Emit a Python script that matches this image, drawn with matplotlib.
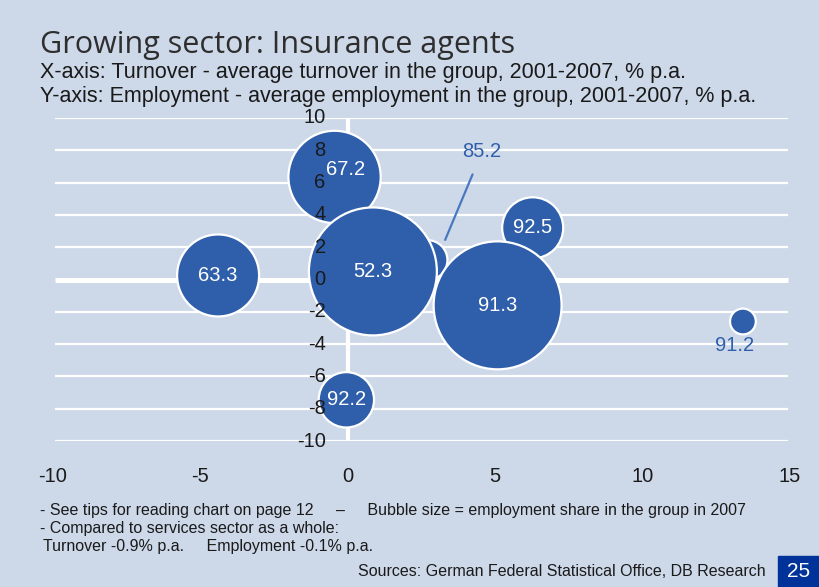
import matplotlib.pyplot as plt
import numpy as np

plt.rcParams['font.family'] = ['Liberation Sans', 'DejaVu Sans']

bg = '#cdd8e9'
blue = '#2f5fab'
dark_blue = '#003399'
text_dark = '#1a1a1a'

# bubble data (turnover % p.a., employment % p.a., employment share, label)
labels = ['67.2', '85.2', '92.5', '52.3', '91.3', '63.3', '92.2', '91.2']
turnover = [-0.45, 2.7, 6.27, 0.85, 5.08, -4.4, -0.05, 13.4]
employment = [6.35, 1.2, 3.2, 0.5, -1.6, 0.25, -7.45, -2.6]
share = [12.8, 2.4, 5.6, 24.6, 24.6, 10.1, 4.6, 1.0]

x_ticks = [-10, -5, 0, 5, 10, 15]
y_ticks = [-10, -8, -6, -4, -2, 0, 2, 4, 6, 8, 10]

fig = plt.figure(figsize=(8.19, 5.87), dpi=100, facecolor=bg)
ax = fig.add_axes([0.0647, 0.2487, 0.9, 0.5503])
ax.set_facecolor(bg)
ax.set_xlim(-10, 15)
ax.set_ylim(-10, 10)
ax.axis('off')

# horizontal grid, zero line heavier, plus the vertical axis line
for yv in y_ticks:
    ax.plot([-9.93, 14.93], [yv, yv], color='white', lw=3.6 if yv == 0 else 1.6,
            zorder=1, solid_capstyle='butt')
ax.plot([0, 0], [-10, 10], color='white', lw=3.0, zorder=1, solid_capstyle='butt')

# bubble area proportional to employment share
sizes = np.array(share) * 345.0
ax.scatter(turnover, employment, s=sizes, color=blue, edgecolors='white',
           linewidths=1.6, zorder=3)

# labels inside the bubbles (offset in points where the label was nudged)
nudge = {'67.2': (8, 5)}
for x, y, lab in zip(turnover, employment, labels):
    if lab in ('85.2', '91.2'):
        continue
    ax.annotate(lab, (x, y), xytext=nudge.get(lab, (0, 0)), textcoords='offset points',
                color='white', fontsize=14.5, ha='center', va='center', zorder=5)

# labels outside the small bubbles
ax.annotate('91.2', (turnover[7], employment[7]), xytext=(-6, -17), textcoords='offset points',
            color=blue, fontsize=14.5, ha='center', va='center', zorder=5)
ax.annotate('85.2', xy=(3.3, 2.45), xytext=(4.55, 7.9), color=blue, fontsize=14.5,
            ha='center', va='center', zorder=5,
            arrowprops=dict(arrowstyle='-', color='#4a78c0', lw=1.6, shrinkA=8, shrinkB=0))

# y tick labels sit next to the vertical axis
for yv in y_ticks:
    ax.text(-0.75, yv, str(yv), color=text_dark, fontsize=14.5, ha='right', va='center', zorder=6)
# x tick labels below the plot
for xv in x_ticks:
    ax.text(xv, -12.2, str(xv), color=text_dark, fontsize=14.5, ha='center', va='center',
            clip_on=False)

# headings
fig.text(0.049, 0.923, 'Growing sector: Insurance agents', fontsize=22, color='#2e2e2e',
         family=['Open Sans', 'DejaVu Sans'], va='center')
fig.text(0.049, 0.877, 'X-axis: Turnover - average turnover in the group, 2001-2007, % p.a.',
         fontsize=15.5, color=text_dark, va='center')
fig.text(0.049, 0.836, 'Y-axis: Employment - average employment in the group, 2001-2007, % p.a.',
         fontsize=15.5, color=text_dark, va='center')

# footnotes
fig.text(0.049, 0.131, '- See tips for reading chart on page 12     \u2013     Bubble size = employment share in the group in 2007',
         fontsize=11.5, color=text_dark, va='center')
fig.text(0.049, 0.100, '- Compared to services sector as a whole:', fontsize=11.5, color=text_dark, va='center')
fig.text(0.053, 0.069, 'Turnover -0.9% p.a.     Employment -0.1% p.a.', fontsize=11.5,
         color=text_dark, va='center')
fig.text(0.935, 0.027, 'Sources: German Federal Statistical Office, DB Research', fontsize=11.5,
         color=text_dark, ha='right', va='center')

# page number box
fig.patches.append(plt.Rectangle((0.95, 0.0), 0.05, 0.053, transform=fig.transFigure,
                                 color=dark_blue, zorder=0))
fig.text(0.975, 0.026, '25', fontsize=15, color='white', ha='center', va='center')

fig.savefig('out.png', dpi=100, facecolor=bg)
